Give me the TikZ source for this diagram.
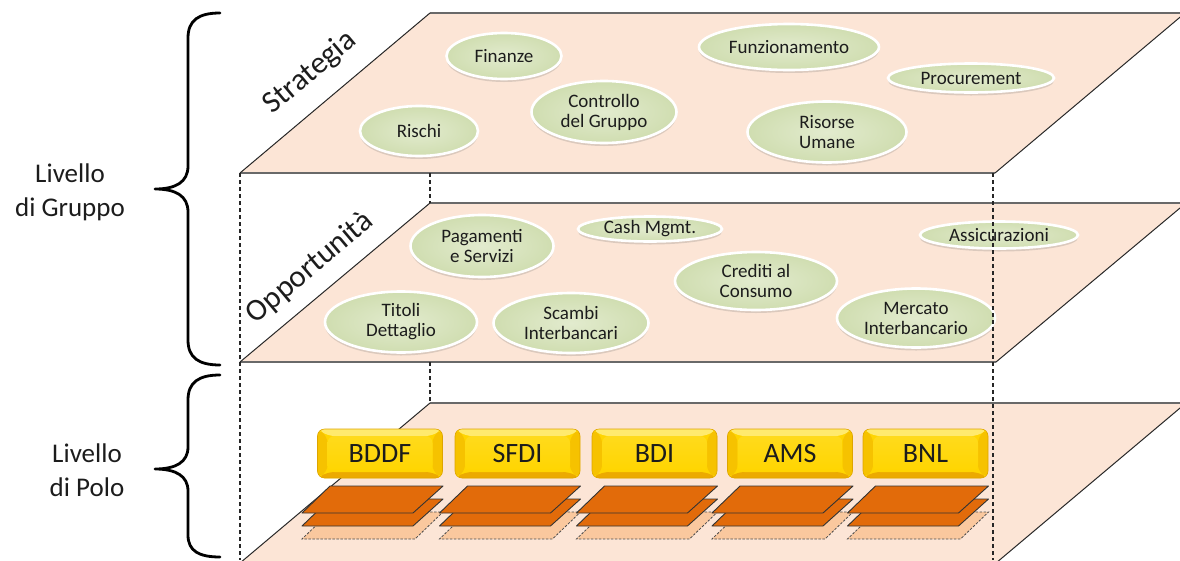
\documentclass[tikz,border=0pt]{standalone}
\usepackage{fontspec}
\setmainfont{Carlito}
\usetikzlibrary{shapes.geometric,shadows}

\definecolor{planefill}{RGB}{252,229,214}
\definecolor{planerim}{RGB}{105,105,105}
\definecolor{planeside}{RGB}{40,40,40}
\definecolor{leafin}{RGB}{226,235,206}
\definecolor{leafmid}{RGB}{210,223,180}
\definecolor{leafout}{RGB}{186,205,143}
\definecolor{inktext}{RGB}{28,28,28}
\definecolor{sheetorange}{RGB}{226,107,10}
\definecolor{sheetpale}{RGB}{250,200,158}
\definecolor{goldface}{RGB}{255,213,0}
\definecolor{goldtop}{RGB}{255,234,110}
\definecolor{goldside}{RGB}{246,194,0}
\definecolor{goldbottom}{RGB}{236,170,0}
\definecolor{goldedge}{RGB}{222,165,0}

\pgfdeclareradialshading{leafglow}{\pgfpoint{0bp}{0bp}}{color(0bp)=(leafin); color(22bp)=(leafmid); color(50bp)=(leafout); color(70bp)=(leafout)}

\tikzset{
  pics/sheetstack/.style={code={
    \path[sheetghost] (-50,58.5) -- (63,58.5) -- (35,85.5) -- (-78,85.5) -- cycle;
    \path[sheet] (-50,45.5) -- (63,45.5) -- (33,72.5) -- (-78,72.5) -- cycle;
    \path[sheet] (-50,32.5) -- (63,32.5) -- (33,59.5) -- (-78,59.5) -- cycle;
  }}
}

\begin{document}
\begin{tikzpicture}[x=1pt, y=-1pt,
  planerimline/.style={draw=planerim, line width=1.8pt},
  planesideline/.style={draw=planeside, line width=1pt},
  guide/.style={draw=black!85, dash pattern=on 4pt off 3pt, line width=1.1pt},
  topic/.style={ellipse, inner sep=0pt, outer sep=0pt, shading=leafglow,
    draw=white, line width=2.6pt,
    drop shadow={shadow xshift=0pt, shadow yshift=-3pt, opacity=0.22, fill=black!60, draw=none},
    text=inktext, align=center, font=\fontsize{19}{20}\selectfont},
  unitbox/.style={rectangle, rounded corners=7pt, minimum width=125pt, minimum height=49pt,
    inner sep=0pt, fill=goldface, draw=goldedge, line width=0.6pt,
    text=inktext, font=\fontsize{28}{30}\selectfont,
    path picture={
      \fill[goldtop] (path picture bounding box.north west) -- (path picture bounding box.north east)
        -- ([xshift=-10pt,yshift=-7pt]path picture bounding box.north east)
        -- ([xshift=10pt,yshift=-7pt]path picture bounding box.north west) -- cycle;
      \fill[goldbottom] (path picture bounding box.south west) -- (path picture bounding box.south east)
        -- ([xshift=-10pt,yshift=6pt]path picture bounding box.south east)
        -- ([xshift=10pt,yshift=6pt]path picture bounding box.south west) -- cycle;
      \fill[goldside] (path picture bounding box.north west)
        -- ([xshift=10pt,yshift=-7pt]path picture bounding box.north west)
        -- ([xshift=10pt,yshift=6pt]path picture bounding box.south west)
        -- (path picture bounding box.south west) -- cycle;
      \fill[goldside] (path picture bounding box.north east)
        -- ([xshift=-10pt,yshift=-7pt]path picture bounding box.north east)
        -- ([xshift=-10pt,yshift=6pt]path picture bounding box.south east)
        -- (path picture bounding box.south east) -- cycle;
      \shade[top color=goldface!75!goldtop, bottom color=goldface]
        ([xshift=10pt,yshift=-7pt]path picture bounding box.north west)
        rectangle ([xshift=-10pt,yshift=6pt]path picture bounding box.south east);
    }},
  sheet/.style={fill=sheetorange, draw=black!80, line width=0.9pt, line join=round},
  sheetghost/.style={fill=sheetpale, draw=black!70, dash pattern=on 2.5pt off 1.5pt, line width=0.8pt},
  planelabel/.style={rotate=40.1, inner sep=0pt, text=inktext, font=\fontsize{31}{33}\selectfont},
  levellabel/.style={align=center, inner sep=0pt, text=inktext, font=\fontsize{27}{34}\selectfont},
  bracestroke/.style={draw=black, line width=2.8pt, line cap=round, line join=round}
]
\useasboundingbox (0,0) rectangle (1180,560);

% corners of the three planes (front-left, front-right, back-right, back-left)
\coordinate (tA) at (240,173); \coordinate (tB) at (995,173);
\coordinate (tC) at (1185,13); \coordinate (tD) at (430,13);
\coordinate (mA) at (240,362); \coordinate (mB) at (996,362);
\coordinate (mC) at (1186,203); \coordinate (mD) at (430,203);
\coordinate (bA) at (240,563); \coordinate (bB) at (996,563);
\coordinate (bC) at (1186,403); \coordinate (bD) at (430,403);

\foreach \p in {t,m,b}{
  \fill[planefill] (\p A) -- (\p B) -- (\p C) -- (\p D) -- cycle;
  \draw[planerimline] (\p A) -- (\p B) (\p C) -- (\p D);
  \draw[planesideline] (\p A) -- (\p D) (\p B) -- (\p C);
}

% hidden vertical edges of the block
\coordinate (leftFoot) at (240,560);
\coordinate (backTop) at (430,173);
\coordinate (backMid) at (430,362);
\draw[guide] (tA) -- (leftFoot);
\draw[guide] (backTop) -- (mD);
\draw[guide] (backMid) -- (bD);

% plane names
\node[planelabel] (strat) at (310,73) {Strategia};
\node[planelabel] (opp) at (310,268) {Opportunità};

% strategy topics
\node[topic, minimum width=115pt, minimum height=46pt] (fin) at (504,56) {Finanze};
\node[topic, minimum width=180pt, minimum height=46pt] (funz) at (789,47) {Funzionamento};
\node[topic, minimum width=166pt, minimum height=29pt] (proc) at (971,78) {Procurement};
\node[topic, minimum width=118pt, minimum height=50pt] (risc) at (419,131) {Rischi};
\node[topic, minimum width=145pt, minimum height=62pt] (ctrl) at (604,112) {Controllo\\del Gruppo};
\node[topic, minimum width=159pt, minimum height=61pt] (hr) at (827,132) {Risorse\\Umane};

% opportunity topics
\node[topic, minimum width=143pt, minimum height=62pt] (pag) at (482,246) {Pagamenti\\e Servizi};
\node[topic, minimum width=144pt, minimum height=25pt] (cash) at (650,229) {Cash Mgmt.};
\node[topic, minimum width=158pt, minimum height=27pt] (assic) at (999,235) {Assicurazioni};
\node[topic, minimum width=162pt, minimum height=58pt] (cred) at (756,281) {Crediti al\\Consumo};
\node[topic, minimum width=152pt, minimum height=61pt] (tit) at (401,322) {Titoli\\Dettaglio};
\node[topic, minimum width=155pt, minimum height=60pt] (scam) at (571,323) {Scambi\\Interbancari};
\node[topic, minimum width=158pt, minimum height=59pt] (merc) at (916,318) {Mercato\\Interbancario};

% business lines
\node[unitbox] (bddf) at (380,453.5) {BDDF};
\node[unitbox] (sfdi) at (517.5,453.5) {SFDI};
\node[unitbox] (bdi) at (654.5,453.5) {BDI};
\node[unitbox] (ams) at (790,453.5) {AMS};
\node[unitbox] (bnl) at (925.5,453.5) {BNL};
\foreach \b in {bddf,sfdi,bdi,ams,bnl}{
  \pic at (\b.center) {sheetstack};
}

% level braces and captions
\draw[bracestroke] (220,13) .. controls (199,13) and (188,20) .. (188,38)
  -- (188,166) .. controls (188,182) and (176,189) .. (155,189)
  .. controls (176,189) and (188,196) .. (188,212)
  -- (188,340) .. controls (188,358) and (199,365) .. (220,365);
\draw[bracestroke] (220,375) .. controls (199,375) and (188,382) .. (188,400)
  -- (188,447) .. controls (188,462) and (176,469) .. (155,469)
  .. controls (176,469) and (188,476) .. (188,491)
  -- (188,535) .. controls (188,551) and (199,557) .. (220,557);
\node[levellabel] (grp) at (70,192) {Livello\\di Gruppo};
\node[levellabel] (polo) at (87,470) {Livello\\di Polo};

% front-right vertical edge, seen through the planes
\coordinate (rightTop) at (993,173);
\coordinate (rightFoot) at (993,560);
\draw[guide] (rightTop) -- (rightFoot);
\end{tikzpicture}
\end{document}
